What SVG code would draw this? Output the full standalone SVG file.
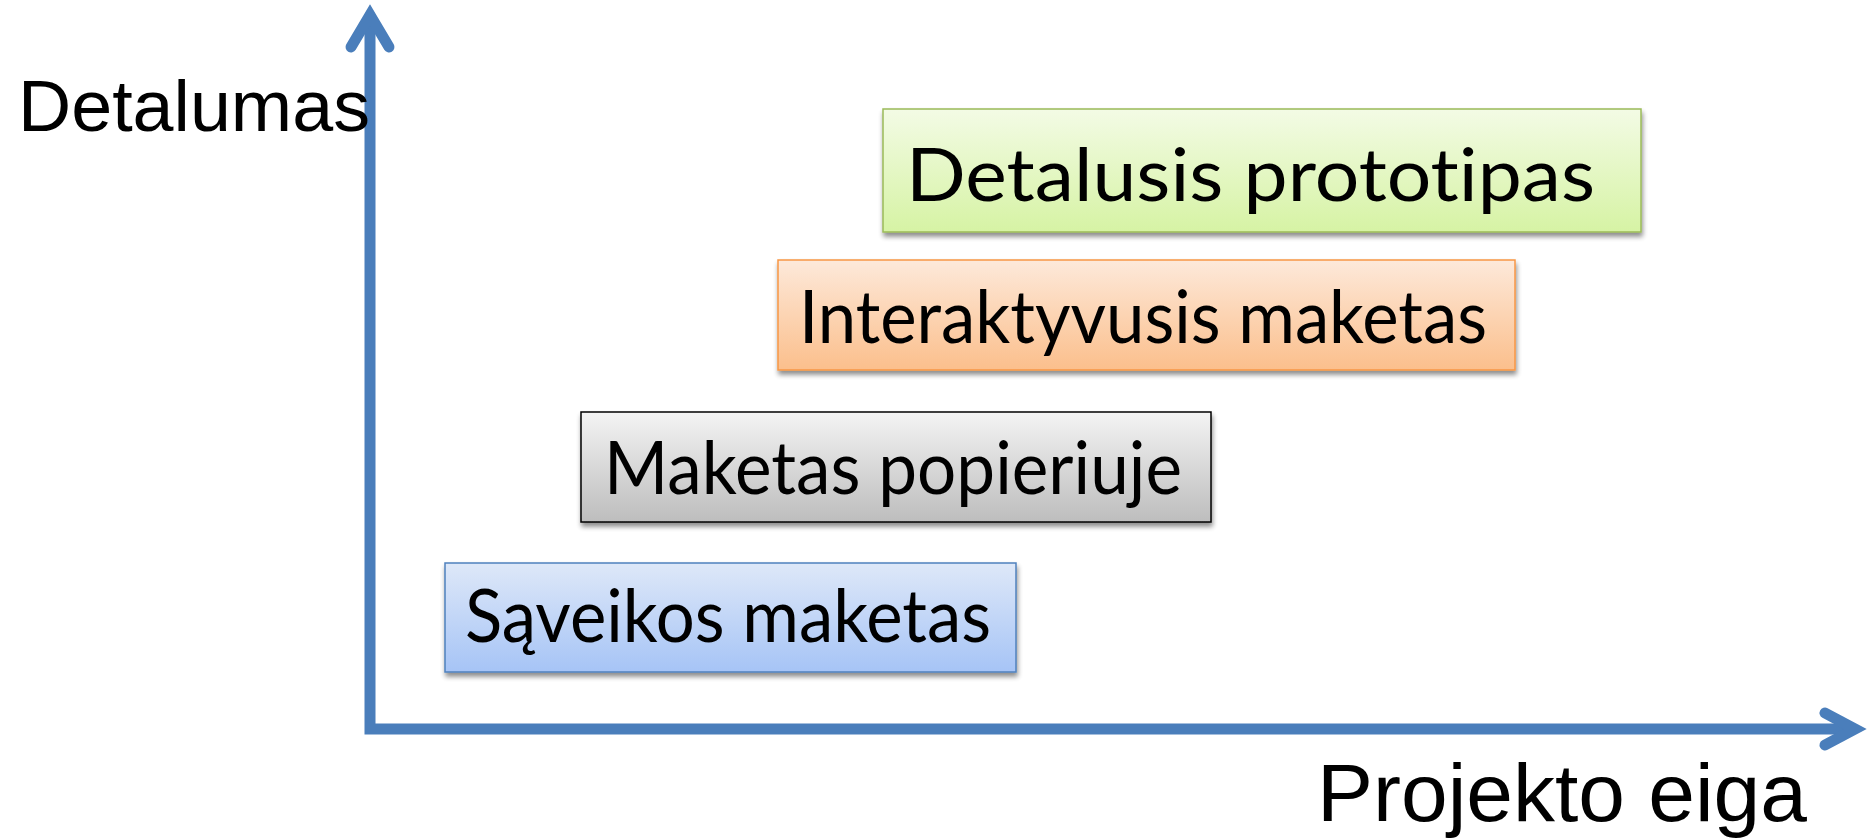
<svg xmlns="http://www.w3.org/2000/svg" width="1876" height="839" viewBox="0 0 1876 839">
  <defs>
    <linearGradient id="gGreen" x1="0" y1="0" x2="0" y2="1">
      <stop offset="0" stop-color="#f3fbe5"/>
      <stop offset="1" stop-color="#d6f3a4"/>
    </linearGradient>
    <linearGradient id="gOrange" x1="0" y1="0" x2="0" y2="1">
      <stop offset="0" stop-color="#fde9da"/>
      <stop offset="1" stop-color="#fbbf8c"/>
    </linearGradient>
    <linearGradient id="gGray" x1="0" y1="0" x2="0" y2="1">
      <stop offset="0" stop-color="#f4f4f4"/>
      <stop offset="1" stop-color="#bdbdbd"/>
    </linearGradient>
    <linearGradient id="gBlue" x1="0" y1="0" x2="0" y2="1">
      <stop offset="0" stop-color="#dee8f8"/>
      <stop offset="1" stop-color="#a6c4f6"/>
    </linearGradient>
    <filter id="shadow" x="-5%" y="-10%" width="110%" height="130%">
      <feGaussianBlur in="SourceAlpha" stdDeviation="2.5"/>
      <feOffset dx="1" dy="4" result="b"/>
      <feComponentTransfer><feFuncA type="linear" slope="0.45"/></feComponentTransfer>
      <feMerge><feMergeNode/><feMergeNode in="SourceGraphic"/></feMerge>
    </filter>
  </defs>
  <style>
    .axis { fill: none; stroke: #4a7ebb; stroke-width: 11; }
    .head { fill: none; stroke: #4a7ebb; stroke-width: 11; stroke-linecap: round; stroke-linejoin: miter; }
    .axlbl { font-family: "Liberation Sans", Arial, sans-serif; fill: #000; }
    .lbl { font-family: Lato, "Open Sans", sans-serif; font-size: 74px; fill: #000; font-variant-ligatures: none; font-feature-settings: "liga" 0; }
    .box { stroke-width: 1.5; }
  </style>

  <rect width="1876" height="839" fill="#ffffff"/>

  <!-- axes -->
  <g id="connectors">
    <path class="axis" d="M370 16 V729 H1852"/>
    <path class="head" d="M351 47 L370 15 L389 47"/>
    <path class="head" d="M1825 713 L1855 729 L1825 745"/>
  </g>

  <g id="label-detalumas">
    <text class="axlbl" x="18" y="131" font-size="73" textLength="352" lengthAdjust="spacingAndGlyphs">Detalumas</text>
  </g>
  <g id="label-projekto-eiga">
    <text class="axlbl" x="1317" y="821" font-size="82" textLength="490" lengthAdjust="spacingAndGlyphs">Projekto eiga</text>
  </g>

  <g id="node-detalusis-prototipas">
    <rect class="box" x="883" y="109" width="758" height="123" fill="url(#gGreen)" stroke="#9bbb59" filter="url(#shadow)"/>
    <text class="lbl" x="906" y="201" textLength="689" lengthAdjust="spacingAndGlyphs">Detalusis prototipas</text>
  </g>

  <g id="node-interaktyvusis-maketas">
    <rect class="box" x="778" y="260" width="737" height="110" fill="url(#gOrange)" stroke="#f79646" filter="url(#shadow)"/>
    <text class="lbl" x="799" y="343" textLength="688" lengthAdjust="spacingAndGlyphs">Interaktyvusis maketas</text>
  </g>

  <g id="node-maketas-popieriuje">
    <rect class="box" x="581" y="412" width="630" height="110" fill="url(#gGray)" stroke="#000000" filter="url(#shadow)"/>
    <text class="lbl" x="604" y="494" textLength="578" lengthAdjust="spacingAndGlyphs">Maketas popieriuje</text>
  </g>

  <g id="node-saveikos-maketas">
    <rect class="box" x="445" y="563" width="571" height="109" fill="url(#gBlue)" stroke="#4f81bd" filter="url(#shadow)"/>
    <text class="lbl" x="465" y="642" textLength="526" lengthAdjust="spacingAndGlyphs">Sąveikos maketas</text>
  </g>
</svg>
